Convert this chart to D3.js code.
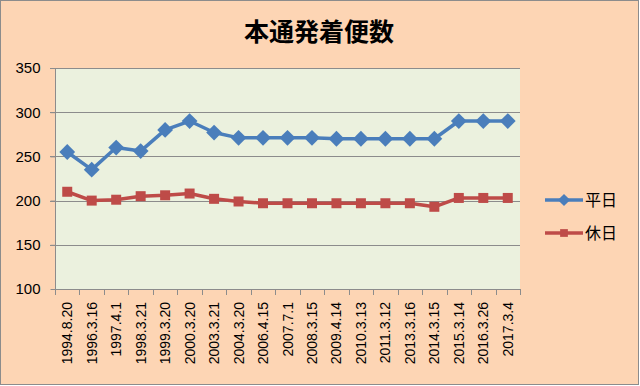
<!DOCTYPE html>
<html lang="ja">
<head>
<meta charset="UTF-8">
<title>本通発着便数</title>
<style>
    body { margin: 0; font-family: "Liberation Sans", Arial, sans-serif; }
    svg { display: block; }
    .grid line { stroke: #8c8c8c; stroke-width: 1px; }
    .axis path, .axis line { stroke: #8c8c8c; }
</style>
</head>
<body>
<svg width="640" height="386"></svg>
<script src="https://d3js.org/d3.v7.min.js"></script>
<script>
const categories = ["1994.8.20", "1996.3.16", "1997.4.1", "1998.3.21", "1999.3.20", "2000.3.20",
    "2003.3.21", "2004.3.20", "2006.4.15", "2007.7.1", "2008.3.15", "2009.4.14", "2010.3.13",
    "2011.3.12", "2013.3.16", "2014.3.15", "2015.3.14", "2016.3.26", "2017.3.4"];
const weekday = [255, 235, 260, 256, 280, 290, 277, 271, 271, 271, 271, 270, 270, 270, 270, 270, 290, 290, 290];
const holiday = [210, 200, 201, 205, 206, 208, 202, 199, 197, 197, 197, 197, 197, 197, 197, 193, 203, 203, 203];
const yTicks = [100, 150, 200, 250, 300, 350];

const svg = d3.select("svg");
const width = +svg.attr("width");
const height = +svg.attr("height");

// background + frame
svg.append("rect").attr("x", 0.5).attr("y", 0.5).attr("width", width - 2).attr("height", height - 2)
    .attr("fill", "#fdd5b4").attr("stroke", "#8c8c8c");

const plotL = 55, plotR = 520, plotT = 68, plotB = 289;

const x = d3.scaleBand().domain(categories).range([plotL, plotR]);
const y = d3.scaleLinear().domain([100, 350]).range([plotB, plotT]);

svg.append("rect").attr("x", plotL).attr("y", plotT).attr("width", plotR - plotL).attr("height", plotB - plotT)
    .attr("fill", "#ebf1de");

// gridlines
svg.append("g").attr("class", "grid")
    .selectAll("line").data(yTicks.filter(d => d > 100)).join("line")
    .attr("x1", plotL - 5).attr("x2", plotR)
    .attr("y1", d => Math.round(y(d)) + 0.5).attr("y2", d => Math.round(y(d)) + 0.5);

// y axis
const yAxis = svg.append("g").attr("class", "axis")
    .attr("transform", `translate(${plotL + 0.5},0)`)
    .call(d3.axisLeft(y).tickValues(yTicks).tickSize(5).tickPadding(10));
yAxis.select(".domain").remove();
yAxis.append("line").attr("y1", plotT).attr("y2", plotB).attr("stroke", "#8c8c8c");
yAxis.selectAll("text").attr("font-size", 15).attr("fill", "#000")
    .attr("font-family", "Liberation Sans, Arial, sans-serif");

// x axis with ticks between categories
const xg = svg.append("g").attr("class", "axis");
xg.append("line").attr("x1", plotL).attr("x2", plotR)
    .attr("y1", plotB + 0.5).attr("y2", plotB + 0.5).attr("stroke", "#8c8c8c");
xg.selectAll("line.tk").data(d3.range(categories.length + 1)).join("line").attr("class", "tk")
    .attr("x1", i => Math.round(plotL + i * x.step()) + 0.5)
    .attr("x2", i => Math.round(plotL + i * x.step()) + 0.5)
    .attr("y1", plotB).attr("y2", plotB + 6).attr("stroke", "#8c8c8c");
xg.selectAll("text").data(categories).join("text")
    .attr("transform", d => `translate(${x(d) + x.bandwidth() / 2 + 5},${plotB + 13}) rotate(-90)`)
    .attr("text-anchor", "end")
    .attr("font-size", 14)
    .text(d => d);

const cx = (d, i) => x(categories[i]) + x.bandwidth() / 2;
const line = d3.line().x(cx).y(d => y(d));

const series = [
    { name: "平日", values: weekday, color: "#4a7ebb", rot: 45, size: 125 },
    { name: "休日", values: holiday, color: "#be4b48", rot: 0, size: 100 }
];

series.forEach(s => {
    svg.append("path").datum(s.values)
        .attr("fill", "none").attr("stroke", s.color).attr("stroke-width", 3.5)
        .attr("stroke-linejoin", "round").attr("d", line);
    svg.append("g").selectAll("path").data(s.values).join("path")
        .attr("transform", (d, i) => `translate(${cx(d, i)},${y(d)}) rotate(${s.rot})`)
        .attr("d", d3.symbol(d3.symbolSquare, s.size))
        .attr("fill", s.color);
});

// legend
const legend = svg.append("g").selectAll("g").data(series).join("g")
    .attr("transform", (d, i) => `translate(545,${200 + i * 33})`);
legend.append("line").attr("x1", 0).attr("x2", 38).attr("stroke", d => d.color).attr("stroke-width", 3.5);
legend.append("path").attr("transform", d => `translate(19,0) rotate(${d.rot})`)
    .attr("d", d => d3.symbol(d3.symbolSquare, d.size * 0.6)())
    .attr("fill", d => d.color);
legend.append("text").attr("x", 40).attr("y", 6).attr("font-size", 16)
    .attr("font-family", "Noto Sans CJK JP, sans-serif").text(d => d.name);

// title
svg.append("text").attr("x", 319).attr("y", 41).attr("text-anchor", "middle")
    .attr("font-size", 25).attr("font-weight", "bold")
    .attr("font-family", "Noto Sans CJK JP, sans-serif")
    .text("本通発着便数");
</script>
</body>
</html>
